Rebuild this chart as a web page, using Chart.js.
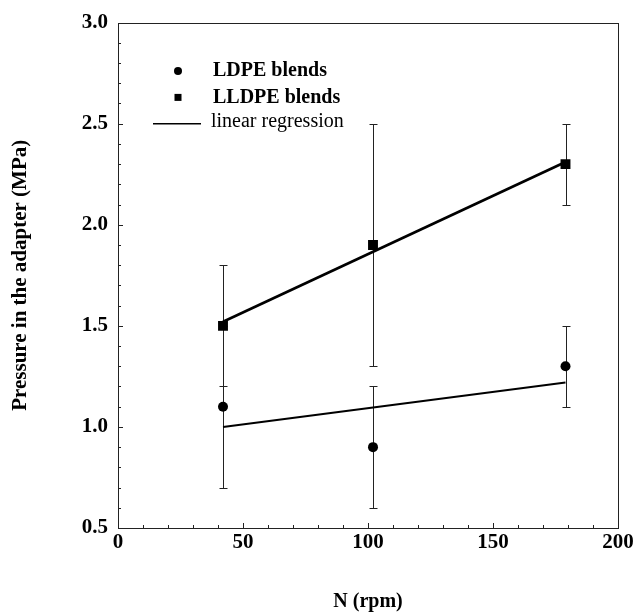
<!DOCTYPE html>
<html>
<head>
<meta charset="utf-8">
<script src="https://cdn.jsdelivr.net/npm/chart.js@4.4.1/dist/chart.umd.min.js"></script>
<style>
  html, body { margin: 0; padding: 0; background: #ffffff; }
  #wrap { width: 636px; height: 614px; }
</style>
</head>
<body>
<div id="wrap"><canvas id="c" width="636" height="614"></canvas></div>
<script>
// ---- data ----
const rpm = [42, 102, 179];
const ldpe = [1.1, 0.9, 1.3];
const ldpeLow = [0.7, 0.6, 1.1];
const ldpeHigh = [1.5, 1.2, 1.5];
const lldpe = [1.5, 1.9, 2.3];
const lldpeLow = [1.2, 1.3, 2.1];
const lldpeHigh = [1.8, 2.5, 2.5];
const fitX = [42, 179];
const ldpeFit = [1.0, 1.22];
const lldpeFit = [1.52, 2.31];
const xTicks = [0, 50, 100, 150, 200];
const yTicks = [0.5, 1.0, 1.5, 2.0, 2.5, 3.0];
const legendLabels = ['LDPE blends', 'LLDPE blends', 'linear regression'];
const legendRowsY = [2.76, 2.63, 2.5];   // legend rows, in MPa
const legendX = [24, 38];                 // marker / text position, in rpm

const SERIF = "'Liberation Serif', 'Times New Roman', serif";
const pts = (xs, ys) => xs.map((x, i) => ({x: x, y: ys[i]}));

const errorBars = {
  id: 'errorBars',
  beforeDatasetsDraw(chart) {
    const {ctx, scales: {x, y}} = chart;
    const sets = [[ldpeLow, ldpeHigh], [lldpeLow, lldpeHigh]];
    ctx.save();
    ctx.strokeStyle = '#222';
    ctx.lineWidth = 1;
    sets.forEach(([lo, hi]) => {
      rpm.forEach((r, i) => {
        const px = Math.round(x.getPixelForValue(r)) + 0.5;
        const y1 = Math.round(y.getPixelForValue(lo[i])) + 0.5;
        const y2 = Math.round(y.getPixelForValue(hi[i])) + 0.5;
        ctx.beginPath();
        ctx.moveTo(px, y1); ctx.lineTo(px, y2);
        ctx.moveTo(px - 4, y1); ctx.lineTo(px + 4, y1);
        ctx.moveTo(px - 4, y2); ctx.lineTo(px + 4, y2);
        ctx.stroke();
      });
    });
    ctx.restore();
  }
};

const frameAndTicks = {
  id: 'frameAndTicks',
  afterDraw(chart) {
    const {ctx, chartArea: a, scales: {x, y}} = chart;
    ctx.save();
    ctx.strokeStyle = '#222';
    ctx.lineWidth = 1;
    ctx.strokeRect(Math.round(a.left) + 0.5, Math.round(a.top) + 0.5,
                   Math.round(a.right - a.left), Math.round(a.bottom - a.top));
    ctx.beginPath();
    for (let v = 0; v <= 200; v += 10) {
      const px = Math.round(x.getPixelForValue(v)) + 0.5;
      const len = v % 50 === 0 ? 5 : 3;
      ctx.moveTo(px, a.bottom); ctx.lineTo(px, a.bottom - len);
    }
    for (let k = 5; k <= 30; k++) {
      const py = Math.round(y.getPixelForValue(k / 10)) + 0.5;
      const len = k % 5 === 0 ? 5 : 3;
      ctx.moveTo(a.left, py); ctx.lineTo(a.left + len, py);
    }
    ctx.stroke();

    // legend inside the plot
    const mx = x.getPixelForValue(legendX[0]);
    const tx = x.getPixelForValue(legendX[1]);
    const r0 = y.getPixelForValue(legendRowsY[0]);
    const r1 = y.getPixelForValue(legendRowsY[1]);
    const r2 = y.getPixelForValue(legendRowsY[2]);
    ctx.fillStyle = '#000';
    ctx.beginPath(); ctx.arc(mx, r0, 4, 0, Math.PI * 2); ctx.fill();
    ctx.fillRect(mx - 3.5, r1 - 3.5, 7, 7);
    ctx.strokeStyle = '#000';
    ctx.lineWidth = 1.5;
    ctx.beginPath(); ctx.moveTo(mx - 25, r2); ctx.lineTo(mx + 23, r2); ctx.stroke();
    ctx.textBaseline = 'middle';
    ctx.textAlign = 'left';
    ctx.font = 'bold 20px ' + SERIF;
    ctx.fillText(legendLabels[0], tx, r0);
    ctx.fillText(legendLabels[1], tx, r1);
    ctx.font = '20px ' + SERIF;
    ctx.fillText(legendLabels[2], tx - 2, r2 - 2);
    ctx.restore();
  }
};

new Chart(document.getElementById('c'), {
  type: 'scatter',
  data: {
    datasets: [
      { label: legendLabels[0], data: pts(rpm, ldpe), pointStyle: 'circle', pointRadius: 5,
        backgroundColor: '#000', borderColor: '#000', borderWidth: 0, showLine: false, order: 1 },
      { label: legendLabels[1], data: pts(rpm, lldpe), pointStyle: 'rect', pointRadius: 7,
        backgroundColor: '#000', borderColor: '#000', borderWidth: 0, showLine: false, order: 1 },
      { label: legendLabels[2], data: pts(fitX, ldpeFit), showLine: true, pointRadius: 0,
        borderColor: '#000', borderWidth: 2, order: 2 },
      { label: legendLabels[2], data: pts(fitX, lldpeFit), showLine: true, pointRadius: 0,
        borderColor: '#000', borderWidth: 2.7, order: 2 }
    ]
  },
  options: {
    responsive: false,
    animation: false,
    layout: { padding: { left: 0, top: 18, right: 18, bottom: 0 } },
    plugins: { legend: { display: false }, tooltip: { enabled: false } },
    scales: {
      x: {
        type: 'linear', min: 0, max: 200,
        afterBuildTicks: s => { s.ticks = xTicks.map(v => ({value: v})); },
        afterFit: s => { s.height = 86; },
        grid: { display: false, drawTicks: false },
        border: { display: false },
        ticks: { color: '#000', padding: 2, font: { family: SERIF, size: 21, weight: 'bold' } },
        title: { display: true, text: 'N (rpm)', color: '#000',
                 font: { family: SERIF, size: 20, weight: 'bold' }, padding: { top: 0, bottom: 0 } }
      },
      y: {
        type: 'linear', min: 0.5, max: 3.0,
        afterBuildTicks: s => { s.ticks = yTicks.map(v => ({value: v})); },
        afterFit: s => { s.width = 118; },
        grid: { display: false, drawTicks: false },
        border: { display: false },
        ticks: { color: '#000', padding: 10, font: { family: SERIF, size: 21, weight: 'bold' },
                 callback: v => Number(v).toFixed(1) },
        title: { display: true, text: 'Pressure in the adapter (MPa)', color: '#000',
                 font: { family: SERIF, size: 21, weight: 'bold' }, padding: { top: 8, bottom: 0 } }
      }
    }
  },
  plugins: [errorBars, frameAndTicks]
});
</script>
</body>
</html>
